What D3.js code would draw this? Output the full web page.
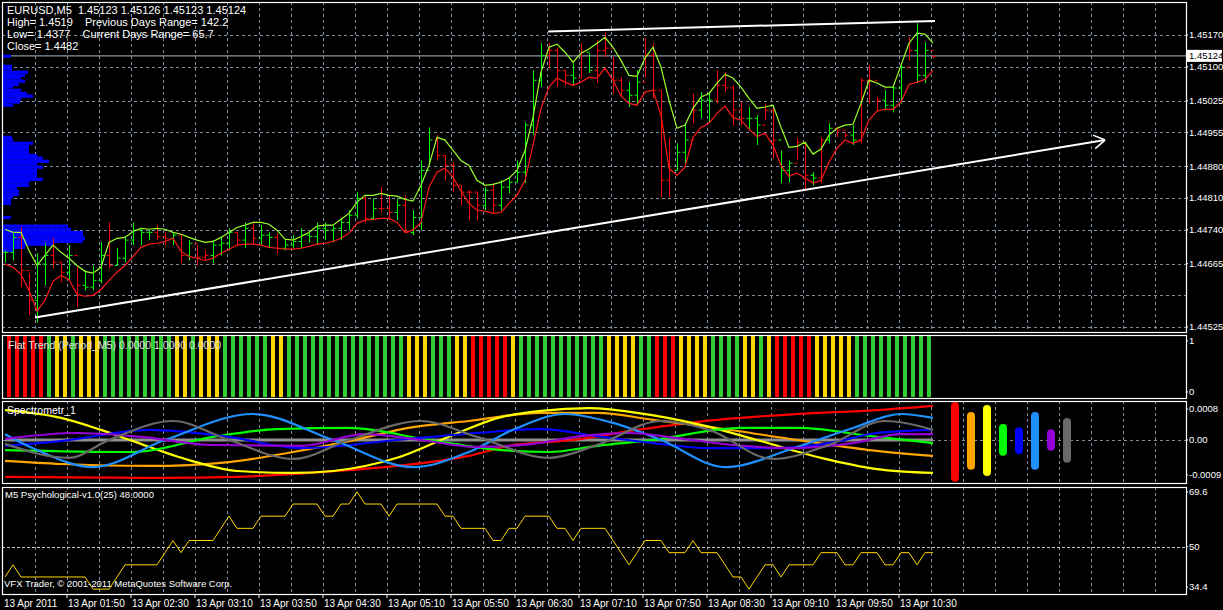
<!DOCTYPE html>
<meta charset="utf-8">
<style>
body { margin: 0; background: #000; }
text { font-family: 'Liberation Sans', sans-serif; fill: #fff; white-space: pre; }
.grid { stroke: #8090a0; stroke-dasharray: 3,3; stroke-width: 1; }
</style>
<body>
<script src="https://d3js.org/d3.v7.min.js"></script>
<script>
var width = 1223, height = 610;

// main chart: moving averages + bars (price)
var maUpper = [1.44741,1.44734,1.44734,1.44694,1.44661,1.44683,1.44706,1.44690,1.44677,1.44661,
 1.44648,1.44644,1.44657,1.44712,1.44721,1.44723,1.44736,1.44743,1.44741,1.44743,
 1.44741,1.44734,1.44730,1.44723,1.44717,1.44712,1.44714,1.44723,1.44734,1.44745,
 1.44750,1.44756,1.44756,1.44752,1.44739,1.44719,1.44717,1.44725,1.44734,1.44748,
 1.44750,1.44750,1.44763,1.44776,1.44801,1.44816,1.44816,1.44820,1.44816,1.44814,
 1.44807,1.44803,1.44838,1.44882,1.44944,1.44938,1.44915,1.44893,1.44882,
 1.44849,1.44838,1.44840,1.44845,1.44854,1.44871,1.44915,1.44988,1.45088,1.45143,
 1.45150,1.45132,1.45110,1.45130,1.45139,1.45152,1.45165,1.45143,1.45114,1.45081,
 1.45079,1.45119,1.45143,1.45099,1.45026,1.44964,1.44971,1.45008,1.45033,1.45041,
 1.45064,1.45083,1.45075,1.45055,1.45030,1.45008,1.45011,1.45015,1.44966,1.44922,
 1.44924,1.44933,1.44907,1.44918,1.44949,1.44964,1.44971,1.44973,1.45019,1.45070,
 1.45064,1.45055,1.45055,1.45103,1.45152,1.45174,1.45172,1.45152];
var maLower = [1.44664,1.44657,1.44641,1.44606,1.44560,1.44584,1.44626,1.44639,1.44630,1.44597,
 1.44593,1.44595,1.44608,1.44628,1.44646,1.44661,1.44681,1.44701,1.44708,1.44710,
 1.44714,1.44721,1.44692,1.44681,1.44677,1.44672,1.44677,1.44688,1.44697,1.44706,
 1.44708,1.44708,1.44706,1.44701,1.44699,1.44697,1.44697,1.44699,1.44703,1.44708,
 1.44710,1.44714,1.44721,1.44732,1.44754,1.44761,1.44763,1.44765,1.44765,1.44756,
 1.44734,1.44739,1.44756,1.44834,1.44867,1.44876,1.44856,1.44825,1.44798,
 1.44783,1.44781,1.44776,1.44778,1.44798,1.44816,1.44849,1.44927,1.45008,1.45055,
 1.45075,1.45066,1.45059,1.45066,1.45077,1.45075,1.45097,1.45070,1.45035,1.45019,
 1.45015,1.45044,1.45048,1.44993,1.44876,1.44860,1.44878,1.44944,1.44966,1.44975,
 1.44997,1.45013,1.44988,1.44982,1.44962,1.44946,1.44953,1.44927,1.44882,1.44858,
 1.44865,1.44854,1.44843,1.44849,1.44889,1.44920,1.44938,1.44931,1.44938,1.44982,
 1.45002,1.45006,1.45006,1.45022,1.45061,1.45066,1.45072,1.45092];
var barHigh = [1.44694,1.44732,1.44745,1.44644,1.44688,1.44710,1.44721,1.44668,1.44706,1.44657,
 1.44650,1.44661,1.44712,1.44756,1.44699,1.44723,1.44756,1.44739,1.44739,1.44750,
 1.44734,1.44732,1.44728,1.44717,1.44706,1.44694,1.44717,1.44723,1.44743,1.44734,
 1.44756,1.44756,1.44750,1.44734,1.44732,1.44717,1.44728,1.44743,1.44734,1.44756,
 1.44756,1.44750,1.44765,1.44783,1.44823,1.44816,1.44809,1.44834,1.44816,1.44809,
 1.44816,1.44783,1.44893,1.44966,1.44949,1.44904,1.44889,1.44838,1.44827,1.44823,
 1.44834,1.44843,1.44849,1.44854,1.44893,1.44977,1.45092,1.45152,1.45152,1.45143,
 1.45092,1.45108,1.45152,1.45130,1.45159,1.45176,1.45121,1.45077,1.45066,1.45092,
 1.45163,1.45152,1.45048,1.44944,1.44931,1.44975,1.45041,1.45044,1.45041,1.45092,
 1.45088,1.45059,1.45022,1.45011,1.44993,1.45019,1.45015,1.44915,1.44893,1.44942,
 1.44933,1.44867,1.44944,1.44975,1.44966,1.44955,1.44971,1.45075,1.45103,1.45033,
 1.45048,1.45059,1.45103,1.45165,1.45196,1.45154,1.45125];
var barLow = [1.44668,1.44672,1.44613,1.44551,1.44535,1.44617,1.44655,1.44624,1.44628,1.44569,
 1.44606,1.44606,1.44622,1.44655,1.44661,1.44668,1.44706,1.44706,1.44717,1.44717,
 1.44706,1.44706,1.44666,1.44672,1.44661,1.44672,1.44666,1.44683,1.44694,1.44706,
 1.44699,1.44706,1.44706,1.44701,1.44688,1.44694,1.44699,1.44699,1.44712,1.44706,
 1.44717,1.44712,1.44717,1.44739,1.44765,1.44756,1.44761,1.44778,1.44761,1.44761,
 1.44732,1.44728,1.44739,1.44882,1.44893,1.44849,1.44823,1.44794,1.44761,1.44761,
 1.44783,1.44776,1.44783,1.44820,1.44845,1.44843,1.44949,1.45055,1.45097,1.45055,
 1.45059,1.45059,1.45075,1.45086,1.45064,1.45121,1.45041,1.45033,1.45011,1.45015,
 1.45077,1.45030,1.44812,1.44812,1.44871,1.44887,1.44975,1.44986,1.44977,1.45019,
 1.45044,1.44971,1.44971,1.44960,1.44927,1.44982,1.44898,1.44843,1.44845,1.44893,
 1.44827,1.44838,1.44843,1.44931,1.44944,1.44942,1.44927,1.44931,1.45019,1.45004,
 1.45004,1.44999,1.45019,1.45114,1.45064,1.45064,1.45119];
var barClose = [1.44690,1.44723,1.44650,1.44584,1.44664,1.44683,1.44668,1.44646,1.44683,1.44617,
 1.44613,1.44628,1.44683,1.44661,1.44677,1.44717,1.44739,1.44734,1.44734,1.44725,
 1.44721,1.44728,1.44683,1.44710,1.44679,1.44683,1.44706,1.44710,1.44734,1.44717,
 1.44743,1.44721,1.44728,1.44723,1.44699,1.44706,1.44714,1.44728,1.44725,1.44743,
 1.44739,1.44743,1.44756,1.44772,1.44809,1.44765,1.44787,1.44787,1.44778,1.44794,
 1.44734,1.44767,1.44871,1.44938,1.44904,1.44882,1.44838,1.44823,1.44823,1.44794,
 1.44827,1.44794,1.44834,1.44845,1.44867,1.44971,1.45070,1.45125,1.45136,1.45092,
 1.45081,1.45075,1.45132,1.45092,1.45136,1.45141,1.45070,1.45048,1.45037,1.45066,
 1.45125,1.45048,1.44849,1.44871,1.44911,1.44938,1.45004,1.45026,1.45026,1.45059,
 1.45053,1.45004,1.44986,1.44986,1.44971,1.45004,1.44938,1.44871,1.44887,1.44933,
 1.44860,1.44854,1.44938,1.44964,1.44960,1.44949,1.44938,1.45070,1.45070,1.45026,
 1.45015,1.45053,1.45099,1.45136,1.45081,1.45136,1.45123];
var barDir = "ggrrggrrgrgggrgggggrrgrgrrgggrgrggrggggggggggrgrrgrgggrrrrrrgrggggggrrrgrgrrrrggrrrrggrggrrrrggrrggrrgrgrrgrrrgggrgg";

// volume profile at the left edge
var profilePrice = [1.45123,1.45101,1.45095,1.45088,1.45081,1.45075,1.45068,1.45061,1.45055,1.45048,
 1.45041,1.45035,1.45028,1.45022,1.45015,1.44944,1.44938,1.44931,1.44924,1.44918,
 1.44911,1.44904,1.44898,1.44891,1.44885,1.44878,1.44871,1.44865,1.44858,1.44851,
 1.44845,1.44838,1.44832,1.44825,1.44818,1.44812,1.44805,1.44798,1.44767,1.44748,
 1.44741,1.44734,1.44728,1.44721,1.44714,1.44708,1.44701,1.44694];
var profileCount = [8,9,9,25,22,18,22,16,10,18,24,30,18,17,10,9,10,30,26,26,
 26,34,40,46,34,40,34,34,34,40,26,26,14,16,16,10,8,8,8,65,
 68,80,80,82,80,50,22,10];

var priceTicks = ["1.45170","1.45100","1.45025","1.44955","1.44880","1.44810","1.44740","1.44665","1.44525"];
var priceGrid = [1.45170,1.45100,1.45025,1.44955,1.44880,1.44810,1.44740,1.44665,1.44595,1.44525];
var bidPrice = 1.45124;
var timeLabels = ["13 Apr 2011","13 Apr 01:50","13 Apr 02:30","13 Apr 03:10","13 Apr 03:50","13 Apr 04:30",
 "13 Apr 05:10","13 Apr 05:50","13 Apr 06:30","13 Apr 07:10","13 Apr 07:50","13 Apr 08:30",
 "13 Apr 09:10","13 Apr 09:50","13 Apr 10:30"];

// flat trend colours per bar (r = red, y = yellow, g = green)
var flatTrend = "rrrrrgyygyyygggggggggyygyyyggggggyygggggggggggggggyyygggyy" +
                "rrrrrygggggggggggyyyyggrrryyyyggggyygyrrrrryyyyygggggggggg";

// spectrometer (values x 1e-4), x as bar index
var specRedX = [0,19,29,38,49,58,63,71,79,89,99,109,116];
var specRed = [-9.5,-9.8,-9.5,-8.5,-6.7,-4.1,-1.5,0,2.6,5.2,6.7,7.7,8.8];
var specOrangeX = [0,7,18,28,36,43,51,58,67,74,81,89,99,108,116];
var specOrange = [-5.4,-6.2,-6.7,-5.7,-3.1,-0.3,3.3,4.9,7.0,7.0,5.2,3.1,0,-2.6,-4.1];
var specYellowX = [0,7,12,16,23,29,36,41,49,56,62,67,73,79,87,94,102,109,116];
var specYellow = [7.7,5.7,2.6,-0.3,-5.2,-8.0,-8.5,-8.0,-4.6,1.3,5.9,7.5,8.2,7.0,3.9,0,-4.6,-7.5,-8.5];
var specLimeX = [0,16,26,34,43,53,62,68,74,81,92,99,109,116];
var specLime = [-2.6,-3.1,0.8,2.8,3.1,0,-2.6,-3.1,-1.5,0,3.1,3.1,0.8,-0.8];
var specBlueX = [0,7,18,28,37,49,59,67,74,81,88,96,103,109,116];
var specBlue = [-1.5,-0.3,2.6,0.8,-2.1,0,1.8,2.8,1.0,-0.8,-2.1,-2.1,-0.8,1.8,2.6];
var specSkyX = [0,4,11,20,31,41,51,58,64,70,76,82,90,99,106,112,116];
var specSky = [1.5,-2.6,-7.0,0,6.7,0,-7.0,-3.1,3.1,6.7,4.4,0,-7.0,-1.8,3.1,6.7,5.7];
var specPurpleX = [0,9,17,26,37,45,52,59,66,72,78,84,91,98,106,112,116];
var specPurple = [0.3,1.8,0.8,-1.3,-1.5,1.5,0,-1.8,-1.0,1.0,1.8,0.5,-1.3,-2.1,-0.8,1.5,1.5];
var specGreyX = [0,8,13,21,28,36,43,52,59,68,74,82,88,96,103,110,116];
var specGrey = [-1.0,-4.6,0,4.9,0,-4.9,0,4.9,0.8,-4.6,-1.3,4.9,2.6,-4.9,-1.3,4.9,2.6];
var specColors = ["#ff0000","#ffa500","#ffff00","#00ff00","#0000ff","#1e90ff","#9400d3","#696969"];
var specBarHigh = [9.8,7.2,9.0,4.1,3.3,7.2,2.8,5.7];
var specBarLow = [-10.8,-7.7,-9.3,-4.1,-3.6,-7.7,-2.8,-5.9];

// psychological index
var psych = [40,44,40,40,40,40,40,40,40,40,40,36,36,36,40,44,44,44,44,44,
 48,52,48,52,52,52,52,56,60,56,56,56,60,60,60,60,64,64,64,64,
 60,60,64,64,68,64,64,64,60,64,64,64,64,64,64,60,60,56,56,56,
 56,52,52,56,56,60,60,60,60,56,56,52,56,56,56,56,52,48,44,48,
 52,52,52,48,48,48,52,48,48,48,44,40,40,36,40,44,44,40,44,44,
 44,44,48,48,48,44,44,48,48,48,44,44,48,48,44,48,48];

var svg = d3.select("body").append("svg")
	.attr("width", width)
	.attr("height", height)
	.style("background", "#000");

var plotLeft = 2, plotRight = 1186;
var x = d3.scaleLinear().domain([0, 116]).range([5, 933]);

var panels = [
	{top: 2, bottom: 332},
	{top: 335, bottom: 398},
	{top: 401, bottom: 483},
	{top: 487, bottom: 594}
];

var yMain = d3.scaleLinear().domain([1.44514, 1.45243]).range([332, 2]);
var yFlat = d3.scaleLinear().domain([0, 1]).range([397, 336]);
var ySpec = d3.scaleLinear().domain([-11.1, 10.06]).range([483, 401]);
var yPsy = d3.scaleLinear().domain([34.4, 69.6]).range([594, 487]);

// vertical grid in every panel
var gridIdx = d3.range(0, 36).map(function(k) { return 3.75 + 4 * k; });
panels.forEach(function(p, pi) {
	if (pi == 1) return;
	svg.append("g").selectAll("line").data(gridIdx).enter().append("line")
		.attr("class", "grid")
		.attr("x1", function(d) { return Math.round(x(d)) + 0.5; })
		.attr("x2", function(d) { return Math.round(x(d)) + 0.5; })
		.attr("y1", p.top).attr("y2", p.bottom);
});

// main horizontal grid
svg.append("g").selectAll("line").data(priceGrid).enter().append("line")
	.attr("class", "grid")
	.attr("x1", plotLeft).attr("x2", plotRight)
	.attr("y1", function(d) { return Math.round(yMain(d)) + 0.5; })
	.attr("y2", function(d) { return Math.round(yMain(d)) + 0.5; });

// bid line
svg.append("line")
	.attr("x1", plotLeft).attr("x2", plotRight)
	.attr("y1", yMain(bidPrice)).attr("y2", yMain(bidPrice))
	.style("stroke", "#8a96a0").style("stroke-width", 1.2);

// volume profile
var profH = yMain(1.45000) - yMain(1.45007);
svg.append("g").selectAll("rect").data(profilePrice).enter().append("rect")
	.attr("x", 3)
	.attr("y", function(d) { return yMain(d) - profH / 2; })
	.attr("width", function(d, i) { return profileCount[i]; })
	.attr("height", profH)
	.attr("fill", "#0000ff");

// bars
var bars = svg.append("g");
barHigh.forEach(function(h, i) {
	var c = barDir[i] == "g" ? "#00ff00" : "#ff0000";
	var xi = Math.round(x(i)) + 0.5;
	var open = i > 0 ? barClose[i - 1] : barClose[i];
	bars.append("line").attr("x1", xi).attr("x2", xi)
		.attr("y1", yMain(h)).attr("y2", yMain(barLow[i]))
		.style("stroke", c).style("stroke-width", 1);
	bars.append("line").attr("x1", xi - 3).attr("x2", xi)
		.attr("y1", yMain(open)).attr("y2", yMain(open))
		.style("stroke", c);
	bars.append("line").attr("x1", xi).attr("x2", xi + 3)
		.attr("y1", yMain(barClose[i])).attr("y2", yMain(barClose[i]))
		.style("stroke", c);
});

var maLine = d3.line().x(function(d, i) { return x(i); }).y(function(d) { return yMain(d); });
svg.append("path").attr("d", maLine(maUpper)).attr("fill", "none")
	.style("stroke", "#9aff2a").style("stroke-width", 1.2);
svg.append("path").attr("d", maLine(maLower)).attr("fill", "none")
	.style("stroke", "#ff1a1a").style("stroke-width", 1.2);

// trend lines
function trend(i1, p1, i2, p2) {
	return svg.append("line")
		.attr("x1", x(i1)).attr("y1", yMain(p1))
		.attr("x2", x(i2)).attr("y2", yMain(p2))
		.style("stroke", "#fff").style("stroke-width", 2);
}
trend(3.75, 1.44546, 137.5, 1.44938);
trend(67.9, 1.45178, 116.25, 1.45201);
// arrow head
var ax = x(137.5), ay = yMain(1.44938);
var ang = Math.atan2(yMain(1.44938) - yMain(1.44546), x(137.5) - x(3.75));
[0.55, -0.55].forEach(function(o) {
	svg.append("line").attr("x1", ax).attr("y1", ay)
		.attr("x2", ax - 13 * Math.cos(ang + o)).attr("y2", ay - 13 * Math.sin(ang + o))
		.style("stroke", "#fff").style("stroke-width", 1.5);
});

// flat trend bars
svg.append("g").selectAll("rect").data(flatTrend.split("")).enter().append("rect")
	.attr("x", function(d, i) { return Math.round(x(i)) + 2; })
	.attr("y", yFlat(1))
	.attr("width", 4)
	.attr("height", yFlat(0) - yFlat(1))
	.attr("fill", function(d) { return d == "r" ? "#ff0000" : d == "y" ? "#ffd700" : "#32cd32"; });

// spectrometer
svg.append("line").attr("class", "grid")
	.attr("x1", plotLeft).attr("x2", plotRight)
	.attr("y1", ySpec(0) + 0.5).attr("y2", ySpec(0) + 0.5);
svg.append("line")
	.attr("x1", x(0)).attr("x2", x(116))
	.attr("y1", ySpec(0)).attr("y2", ySpec(0))
	.style("stroke", "#909090").style("stroke-width", 3);
var specSeries = [
	[specRedX, specRed], [specOrangeX, specOrange], [specYellowX, specYellow], [specLimeX, specLime],
	[specBlueX, specBlue], [specSkyX, specSky], [specPurpleX, specPurple], [specGreyX, specGrey]
];
var specLine = d3.line().curve(d3.curveMonotoneX)
	.x(function(d) { return x(d[0]); }).y(function(d) { return ySpec(d[1]); });
specSeries.forEach(function(s, k) {
	var pts = s[0].map(function(xx, j) { return [xx, s[1][j]]; });
	svg.append("path").attr("d", specLine(pts)).attr("fill", "none")
		.style("stroke", specColors[k]).style("stroke-width", 2.2);
});
specColors.forEach(function(c, k) {
	svg.append("line")
		.attr("x1", 955 + 16 * k).attr("x2", 955 + 16 * k)
		.attr("y1", ySpec(specBarHigh[k]) + 4).attr("y2", ySpec(specBarLow[k]) - 4)
		.style("stroke", c).style("stroke-width", 8).style("stroke-linecap", "round");
});

// psychological
svg.append("line")
	.attr("x1", plotLeft).attr("x2", plotRight)
	.attr("y1", Math.round(yPsy(50)) + 0.5).attr("y2", Math.round(yPsy(50)) + 0.5)
	.style("stroke", "#c8c8c8").style("stroke-dasharray", "3,2");
svg.append("path")
	.attr("d", d3.line().x(function(d, i) { return x(i); }).y(function(d) { return yPsy(d); })(psych))
	.attr("fill", "none").style("stroke", "#ffd700").style("stroke-width", 1);

// panel frames
panels.forEach(function(p) {
	svg.append("rect").attr("x", plotLeft + 0.5).attr("y", p.top + 0.5)
		.attr("width", plotRight - plotLeft).attr("height", p.bottom - p.top)
		.attr("fill", "none").style("stroke", "#fff").style("stroke-width", 1.2);
});

// right axes
var axisX = plotRight + 3;
function rlabel(txt, y) {
	svg.append("text").attr("x", axisX).attr("y", y).attr("dy", "0.35em")
		.style("font-size", "9.5px").text(txt);
	svg.append("line").attr("x1", plotRight).attr("x2", plotRight + 2)
		.attr("y1", y).attr("y2", y).style("stroke", "#fff");
}
priceTicks.forEach(function(t) { rlabel(t, yMain(+t)); });
svg.append("rect").attr("x", plotRight + 1).attr("y", yMain(bidPrice) - 6)
	.attr("width", 35).attr("height", 12).attr("fill", "#fff");
svg.append("text").attr("x", axisX).attr("y", yMain(bidPrice)).attr("dy", "0.35em")
	.style("font-size", "9.5px").style("fill", "#000").text(bidPrice.toFixed(5));
rlabel("1", 341);
rlabel("0", 392);
rlabel("0.0008", ySpec(8));
rlabel("0.00", ySpec(0));
rlabel("-0.0009", ySpec(-9));
rlabel("69.6", 492);
rlabel("50", yPsy(50));
rlabel("34.4", 587);

// time axis
timeLabels.forEach(function(t, j) {
	var tx = j == 0 ? 4 : Math.round(x(7.75 + 8 * (j - 1))) + 1;
	svg.append("text").attr("x", tx).attr("y", 607)
		.style("font-size", "10px").text(t);
	if (j > 0) svg.append("line").attr("x1", tx - 1).attr("x2", tx - 1)
		.attr("y1", 594).attr("y2", 598).style("stroke", "#fff");
});

// header texts
var hdr = ["EURUSD,M5  1.45123 1.45126 1.45123 1.45124",
	"High= 1.4519    Previous Days Range= 142.2",
	"Low= 1.4377    Current Days Range= 65.7",
	"Close= 1.4482"];
hdr.forEach(function(t, i) {
	svg.append("text").attr("x", 7).attr("y", 14 + i * 12)
		.style("font-size", "11px").text(t);
});
svg.append("text").attr("x", 8).attr("y", 349).style("font-size", "10.5px")
	.style("fill", "#e0e0e0").text("Flat Trend (Period_M5) 0.0000 1.0000 0.0000");
svg.append("text").attr("x", 7).attr("y", 414).style("font-size", "10.5px").text("Spectrometr_1");
svg.append("text").attr("x", 5).attr("y", 498).style("font-size", "9.5px").text("M5 Psychological-v1.0(25) 48.0000");
svg.append("text").attr("x", 4).attr("y", 587).style("font-size", "9.5px").text("VFX Trader, © 2001-2011 MetaQuotes Software Corp.");
</script>
</body>
</html>
